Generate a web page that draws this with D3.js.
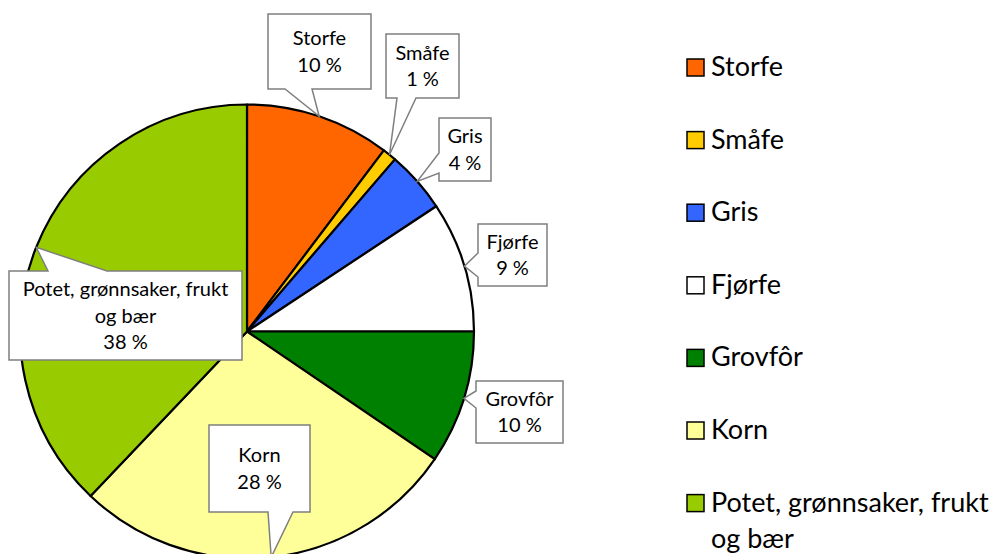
<!DOCTYPE html>
<html>
<head>
<meta charset="utf-8">
<script src="https://d3js.org/d3.v7.min.js"></script>
<style>
  body { margin: 0; background: #fff; }
  text { font-family: Lato, "Liberation Sans", sans-serif; fill: #000; }
</style>
</head>
<body>
<div id="chart"></div>
<script>
  // data
  const categories = ["Storfe", "Småfe", "Gris", "Fjørfe", "Grovfôr", "Korn", "Potet, grønnsaker, frukt og bær"];
  const shares = [10.3, 1.0, 4.4, 9.3, 9.5, 27.6, 37.9];
  const colors = ["#ff6600", "#ffcc00", "#3366ff", "#ffffff", "#008000", "#ffff99", "#99cc00"];
  const wrapped = {"Potet, grønnsaker, frukt og bær": ["Potet, grønnsaker, frukt", "og bær"]};

  // callout boxes: position + where the pointer leaves the box
  const callouts = [
    {x: 268, y: 14, w: 103, h: 75, side: "bottom", a: 17, b: 44},
    {x: 386, y: 34, w: 73, h: 64, side: "bottom", a: 11, b: 30},
    {x: 439, y: 118, w: 52, h: 63, side: "left", a: 35, b: 55},
    {x: 478, y: 224, w: 69, h: 62, side: "left", a: 29, b: 53},
    {x: 476, y: 381, w: 87, h: 62, side: "left", a: 10, b: 27},
    {x: 209, y: 425, w: 101, h: 87, side: "bottom", a: 59, b: 84},
    {x: 9, y: 271, w: 233, h: 89, side: "top", a: 39, b: 98}
  ];

  const w = 997, h = 554;
  const cx = 247, cy = 331.5, r = 227;

  const svg = d3.select("#chart").append("svg")
      .attr("width", w)
      .attr("height", h);

  const pie = d3.pie().sort(null).value(d => d);
  const arcs = pie(shares);
  const arc = d3.arc().innerRadius(0).outerRadius(r);
  const edge = d3.arc().innerRadius(r).outerRadius(r);

  const g = svg.append("g").attr("transform", `translate(${cx},${cy})`);

  g.selectAll("path.slice")
    .data(arcs)
    .join("path")
      .attr("class", "slice")
      .attr("d", arc)
      .attr("fill", (d, i) => colors[i])
      .attr("stroke", "#000")
      .attr("stroke-width", 2.2)
      .attr("stroke-linejoin", "round");

  function calloutPath(b, tip) {
    const p = d3.path();
    const x0 = b.x, y0 = b.y, x1 = b.x + b.w, y1 = b.y + b.h;
    p.moveTo(x0, y0);
    if (b.side === "top") { p.lineTo(x0 + b.a, y0); p.lineTo(tip[0], tip[1]); p.lineTo(x0 + b.b, y0); }
    p.lineTo(x1, y0);
    p.lineTo(x1, y1);
    if (b.side === "bottom") { p.lineTo(x0 + b.b, y1); p.lineTo(tip[0], tip[1]); p.lineTo(x0 + b.a, y1); }
    p.lineTo(x0, y1);
    if (b.side === "left") { p.lineTo(x0, y0 + b.b); p.lineTo(tip[0], tip[1]); p.lineTo(x0, y0 + b.a); }
    p.closePath();
    return p.toString();
  }

  const fmt = v => Math.round(v) + " %";

  const labels = svg.selectAll("g.callout")
    .data(arcs)
    .join("g")
      .attr("class", "callout");

  labels.append("path")
      .attr("d", (d, i) => {
        const c = edge.centroid(d);
        return calloutPath(callouts[i], [c[0] + cx, c[1] + cy]);
      })
      .attr("fill", "#fff")
      .attr("stroke", "#7f7f7f")
      .attr("stroke-width", 1.5);

  const lineH = 26.3;
  labels.each(function(d, i) {
    const b = callouts[i];
    const lines = (wrapped[categories[i]] || [categories[i]]).concat([fmt(shares[i])]);
    const mid = b.y + b.h / 2;
    d3.select(this).selectAll("text")
      .data(lines)
      .join("text")
        .attr("x", b.x + b.w / 2)
        .attr("y", (t, j) => mid + (j - (lines.length - 1) / 2) * lineH + 7)
        .attr("text-anchor", "middle")
        .attr("font-size", "20px")
        .text(t => t);
  });

  // legend
  const legend = svg.append("g").attr("class", "legend");
  const legY = d3.scalePoint().domain(categories).range([76, 76 + 72.6 * 6]);

  const item = legend.selectAll("g")
    .data(categories)
    .join("g")
      .attr("transform", d => `translate(0,${legY(d)})`);

  item.append("rect")
      .attr("x", 687)
      .attr("y", -17)
      .attr("width", 17)
      .attr("height", 17)
      .attr("fill", (d, i) => colors[i])
      .attr("stroke", "#000")
      .attr("stroke-width", 1.5);

  item.each(function(d) {
    const lines = wrapped[d] || [d];
    d3.select(this).selectAll("text")
      .data(lines)
      .join("text")
        .attr("x", 711)
        .attr("y", (t, j) => j * 36.6)
        .attr("font-size", "27px")
        .text(t => t);
  });
</script>
</body>
</html>
